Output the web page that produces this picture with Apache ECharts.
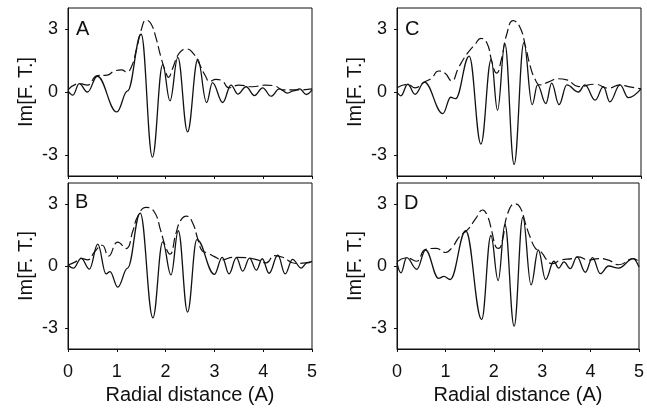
<!DOCTYPE html>
<html>
<head>
<meta charset="utf-8">
<script src="https://cdn.jsdelivr.net/npm/echarts@6/dist/echarts.min.js"></script>
<style>
html,body{margin:0;padding:0;background:#fff;}
#chart{width:647px;height:409px;}
</style>
</head>
<body>
<div id="chart"></div>
<script>
// ---- data (x = radial distance, y = Im[F.T.]) ----
var panelLetters = ['A', 'B', 'C', 'D'];
var xTicks = [0, 1, 2, 3, 4, 5];
var yTicks = [-3, 0, 3];
var xName = 'Radial distance (A)';
var yName = 'Im[F. T.]';

var solidA = [[0,0.05],[0.1,-0.15],[0.23,0.4],[0.4,0.0],[0.6,0.75],[1.0,-0.95],[1.22,0.05],[1.5,2.75],[1.73,-3.1],[1.94,1.3],[2.09,-0.42],[2.25,1.65],[2.45,-1.9],[2.66,1.55],[2.84,-0.5],[2.96,0.45],[3.17,-0.5],[3.34,0.33],[3.48,-0.1],[3.65,0.25],[3.82,-0.17],[3.99,0.2],[4.16,-0.2],[4.33,0.15],[4.5,-0.05],[4.62,0.05],[4.75,0.15],[4.88,-0.12],[5.0,0.1]];
var dashA = [[0,0.1],[0.23,0.4],[0.4,0.33],[0.6,0.78],[0.8,0.8],[0.95,1.0],[1.1,1.05],[1.2,0.95],[1.3,1.2],[1.4,2.0],[1.5,2.95],[1.6,3.42],[1.7,3.25],[1.8,2.6],[1.9,1.7],[2.0,0.95],[2.06,0.7],[2.14,1.1],[2.28,1.85],[2.43,2.05],[2.58,1.8],[2.7,1.3],[2.82,0.75],[2.9,0.5],[3.03,0.6],[3.15,0.55],[3.3,0.2],[3.5,0.33],[3.78,0.25],[4.05,0.33],[4.25,0.28],[4.4,0.1],[4.75,0.1],[5.0,0.15]];

var solidB = [[0,0.05],[0.11,-0.1],[0.27,0.37],[0.44,-0.15],[0.61,1.05],[0.78,-0.38],[0.86,-0.27],[1.02,-1.02],[1.22,-0.1],[1.48,2.55],[1.74,-2.5],[1.94,1.16],[2.11,-0.43],[2.26,1.7],[2.45,-2.22],[2.64,1.27],[3.0,-0.4],[3.16,0.42],[3.3,-0.38],[3.45,0.4],[3.58,-0.25],[3.72,0.38],[3.86,-0.2],[3.98,0.35],[4.12,-0.35],[4.3,0.52],[4.45,-0.38],[4.6,0.32],[4.78,-0.1],[4.9,0.15],[5.0,0.22]];
var dashB = [[0,0.05],[0.15,0.2],[0.27,0.37],[0.4,0.3],[0.55,0.7],[0.7,1.0],[0.83,0.48],[1.02,1.15],[1.19,0.84],[1.33,1.7],[1.43,2.4],[1.6,2.83],[1.77,2.6],[1.9,1.7],[2.0,0.92],[2.09,0.57],[2.21,1.55],[2.31,2.2],[2.43,2.4],[2.55,2.1],[2.66,1.3],[2.75,0.73],[2.86,0.63],[3.0,0.45],[3.17,0.3],[3.37,0.42],[3.65,0.4],[3.9,0.28],[4.06,0.15],[4.23,0.5],[4.4,0.42],[4.67,0.12],[5.0,0.2]];

var solidC = [[0,0.0],[0.08,-0.18],[0.22,0.37],[0.37,-0.11],[0.56,0.47],[0.94,-1.03],[1.1,-0.25],[1.2,-0.32],[1.48,1.71],[1.72,-2.48],[1.93,1.55],[2.06,-0.87],[2.21,2.3],[2.4,-3.45],[2.6,2.35],[2.77,-0.6],[2.88,0.34],[3.05,-0.55],[3.17,0.42],[3.32,-0.6],[3.48,0.34],[3.72,0.0],[3.85,0.34],[4.06,-0.39],[4.23,0.26],[4.36,-0.47],[4.57,0.34],[4.74,-0.27],[5.0,0.15]];
var dashC = [[0,0.2],[0.22,0.37],[0.37,0.2],[0.56,0.47],[0.71,0.66],[0.85,1.0],[0.98,0.9],[1.12,0.53],[1.26,1.15],[1.43,1.8],[1.6,2.27],[1.72,2.55],[1.84,2.35],[1.94,1.47],[2.0,1.0],[2.04,0.9],[2.13,1.47],[2.25,2.76],[2.38,3.4],[2.52,3.08],[2.64,2.1],[2.73,1.23],[2.82,0.66],[2.93,0.34],[3.1,0.47],[3.3,0.63],[3.48,0.58],[3.72,0.26],[4.06,0.37],[4.33,0.18],[4.57,0.34],[4.74,0.26],[5.0,0.15]];

var solidD = [[0,0.15],[0.08,-0.33],[0.2,0.4],[0.41,-0.16],[0.59,0.77],[0.86,-0.6],[0.97,-0.5],[1.1,-0.65],[1.42,1.7],[1.75,-2.58],[1.94,1.47],[2.09,-0.7],[2.23,2.0],[2.42,-2.9],[2.6,2.35],[2.77,-0.91],[2.92,0.77],[3.07,-0.65],[3.24,0.23],[3.34,-0.1],[3.45,0.2],[3.58,-0.13],[3.72,0.44],[3.89,-0.3],[4.04,0.4],[4.2,-0.37],[4.37,0.0],[4.58,-0.1],[4.88,0.36],[5.0,-0.05]];
var dashD = [[0,0.2],[0.2,0.4],[0.4,0.23],[0.59,0.8],[0.81,0.85],[1.0,0.65],[1.15,0.93],[1.29,1.42],[1.46,1.75],[1.63,2.3],[1.77,2.7],[1.87,2.4],[1.96,1.66],[2.04,0.93],[2.1,0.85],[2.18,1.26],[2.28,2.48],[2.44,3.0],[2.55,2.8],[2.66,2.0],[2.76,1.34],[2.86,0.85],[2.97,0.7],[3.1,0.28],[3.2,0.11],[3.38,0.28],[3.62,0.36],[3.75,0.44],[3.96,0.28],[4.16,0.36],[4.37,0.28],[4.58,0.06],[4.88,0.36],[5.0,0.2]];

var solids = [solidA, solidB, solidC, solidD];
var dashes = [dashA, dashB, dashC, dashD];

// ---- layout ----
var FONT = 'Liberation Sans, Arial, sans-serif';
var grids = [
  {left: 68, top: 8, width: 244, height: 168},
  {left: 68, top: 183, width: 244, height: 166},
  {left: 397, top: 8, width: 244, height: 168},
  {left: 397, top: 183, width: 244, height: 166}
];
var showXLabels = [false, true, false, true];
var letterPos = [[76, 30], [75, 203], [405, 30], [404, 204]];

var option = {
  animation: false,
  backgroundColor: '#fff',
  grid: grids.map(function (g) {
    return Object.assign({show: true, borderColor: '#111', borderWidth: 1, backgroundColor: 'transparent'}, g);
  }),
  xAxis: grids.map(function (g, i) {
    return {
      type: 'value', gridIndex: i, min: xTicks[0], max: xTicks[xTicks.length - 1], interval: 1,
      axisLine: {show: true, onZero: false, lineStyle: {color: '#111', width: 1}},
      axisTick: {show: true, length: 3, inside: false, lineStyle: {color: '#111'}},
      axisLabel: {show: showXLabels[i], margin: 14, color: '#111', fontSize: 18, fontFamily: FONT},
      splitLine: {show: false},
      name: showXLabels[i] ? xName : '',
      nameLocation: 'middle', nameGap: 36,
      nameTextStyle: {color: '#111', fontSize: 20, fontFamily: FONT}
    };
  }),
  yAxis: grids.map(function (g, i) {
    return {
      type: 'value', gridIndex: i, min: -4, max: 4,
      axisLine: {show: true, onZero: false, lineStyle: {color: '#111', width: 1}},
      axisTick: {show: true, length: 3, customValues: yTicks, lineStyle: {color: '#111'}},
      axisLabel: {show: true, customValues: yTicks, margin: 10, color: '#111', fontSize: 18, fontFamily: FONT},
      splitLine: {show: false},
      name: yName, nameLocation: 'middle', nameGap: 32, nameRotate: 90,
      nameTextStyle: {color: '#111', fontSize: 20, fontFamily: FONT}
    };
  }),
  graphic: panelLetters.map(function (t, i) {
    return {type: 'text', left: letterPos[i][0], top: letterPos[i][1] - 11,
      style: {text: t, font: '20px ' + FONT, fill: '#111'}};
  }),
  series: []
};
for (var i = 0; i < 4; i++) {
  option.series.push({
    type: 'line', xAxisIndex: i, yAxisIndex: i, data: dashes[i], symbol: 'none', smooth: 0.5,
    lineStyle: {color: '#111', width: 1.2, type: [10, 4]}
  });
  option.series.push({
    type: 'line', xAxisIndex: i, yAxisIndex: i, data: solids[i], symbol: 'none',
    smooth: 0.4, smoothMonotone: 'x',
    lineStyle: {color: '#111', width: 1.3, type: 'solid'}
  });
}
var chart = echarts.init(document.getElementById('chart'), null, {renderer: 'canvas'});
chart.setOption(option);
</script>
</body>
</html>
